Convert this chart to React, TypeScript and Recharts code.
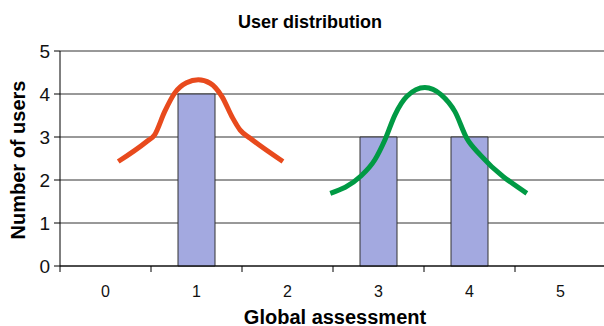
import React from 'react';
import { ComposedChart, Bar, Line, XAxis, YAxis, CartesianGrid } from 'recharts';

const categories = [0, 1, 2, 3, 4, 5];
const barUsers = [0, 4, 0, 3, 3, 0];

const orangeX = [0.14, 0.45, 0.54, 0.65, 0.76, 0.89, 1.02, 1.15, 1.28, 1.39, 1.48, 1.59, 1.95];
const orangeY = [2.43, 2.89, 3.05, 3.59, 4.02, 4.26, 4.33, 4.25, 3.94, 3.47, 3.16, 2.97, 2.43];

const greenX = [2.47, 2.8, 2.96, 3.07, 3.18, 3.31, 3.51, 3.69, 3.84, 3.97, 4.12, 4.63];
const greenY = [1.69, 2.08, 2.47, 2.93, 3.51, 3.94, 4.15, 3.98, 3.59, 2.97, 2.58, 1.69];

const yTicks = [0, 1, 2, 3, 4, 5];

const barRows = categories.map((c, i) => ({ cat: c, users: barUsers[i] || null }));
const orangeRows = orangeX.map((x, i) => ({ x, orange: orangeY[i] }));
const greenRows = greenX.map((x, i) => ({ x, green: greenY[i] }));

const xTicks: number[] = [];
categories.forEach((c) => {
  xTicks.push(c - 0.5);
  xTicks.push(c);
});

const FONT = '"Liberation Sans", Arial, Helvetica, sans-serif';

const XTick = (props: any) => {
  const { x, y, payload } = props;
  const v = payload.value as number;
  if (Number.isInteger(v)) {
    return (
      <text x={x} y={y + 31} textAnchor="middle" fontSize={16} fontFamily={FONT} fill="#111">
        {v}
      </text>
    );
  }
  return <line x1={x} y1={y} x2={x} y2={y + 6} stroke="#000" strokeWidth={1} />;
};

const YTick = (props: any) => {
  const { y, payload } = props;
  return (
    <text x={50} y={y + 7} textAnchor="end" fontSize={19} fontFamily={FONT} fill="#111">
      {payload.value}
    </text>
  );
};

export default function App() {
  return (
    <div style={{ position: 'absolute', left: 0, top: 0, width: 604, height: 326, overflow: 'hidden', background: '#fff' }}>
      <ComposedChart
        width={610}
        height={326}
        data={barRows}
        margin={{ top: 51, right: 4, bottom: 0, left: 0 }}
      >
        <CartesianGrid horizontal vertical={false} stroke="#333" strokeWidth={1} xAxisId="num" />
        <XAxis xAxisId="cat" dataKey="cat" type="category" orientation="top" height={0} hide />
        <XAxis
          xAxisId="num"
          dataKey="x"
          type="number"
          domain={[-0.5, 5.5]}
          ticks={xTicks}
          interval={0}
          tick={<XTick />}
          tickLine={false}
          tickSize={0}
          tickMargin={0}
          height={60}
          axisLine={{ stroke: '#000' }}
          allowDataOverflow
        />
        <YAxis
          type="number"
          domain={[0, 5]}
          ticks={yTicks}
          interval={0}
          width={60}
          tickSize={6}
          tickMargin={4}
          tick={<YTick />}
          tickLine={{ stroke: '#000' }}
          axisLine={{ stroke: '#000' }}
        />
        <Bar xAxisId="cat" dataKey="users" barSize={37} fill="#a3a9e0" stroke="#333" strokeWidth={1} isAnimationActive={false} />
        <Line xAxisId="num" data={orangeRows} dataKey="orange" type="monotone" stroke="#e84a1d" strokeWidth={5} dot={false} isAnimationActive={false} />
        <Line xAxisId="num" data={greenRows} dataKey="green" type="monotone" stroke="#009a44" strokeWidth={5} dot={false} isAnimationActive={false} />
      </ComposedChart>
      <div style={{ position: 'absolute', left: 0, top: 12, width: 620, textAlign: 'center', fontFamily: FONT, fontWeight: 'bold', fontSize: 18, lineHeight: '20px', color: '#000' }}>
        User distribution
      </div>
      <div style={{ position: 'absolute', left: 18 - 100, top: 160 - 10, width: 200, height: 20, textAlign: 'center', fontFamily: FONT, fontWeight: 'bold', fontSize: 20, lineHeight: '20px', color: '#000', transform: 'rotate(-90deg)' }}>
        Number of users
      </div>
      <div style={{ position: 'absolute', left: 335 - 150, top: 307, width: 300, textAlign: 'center', fontFamily: FONT, fontWeight: 'bold', fontSize: 20, lineHeight: '20px', color: '#000' }}>
        Global assessment
      </div>
    </div>
  );
}
